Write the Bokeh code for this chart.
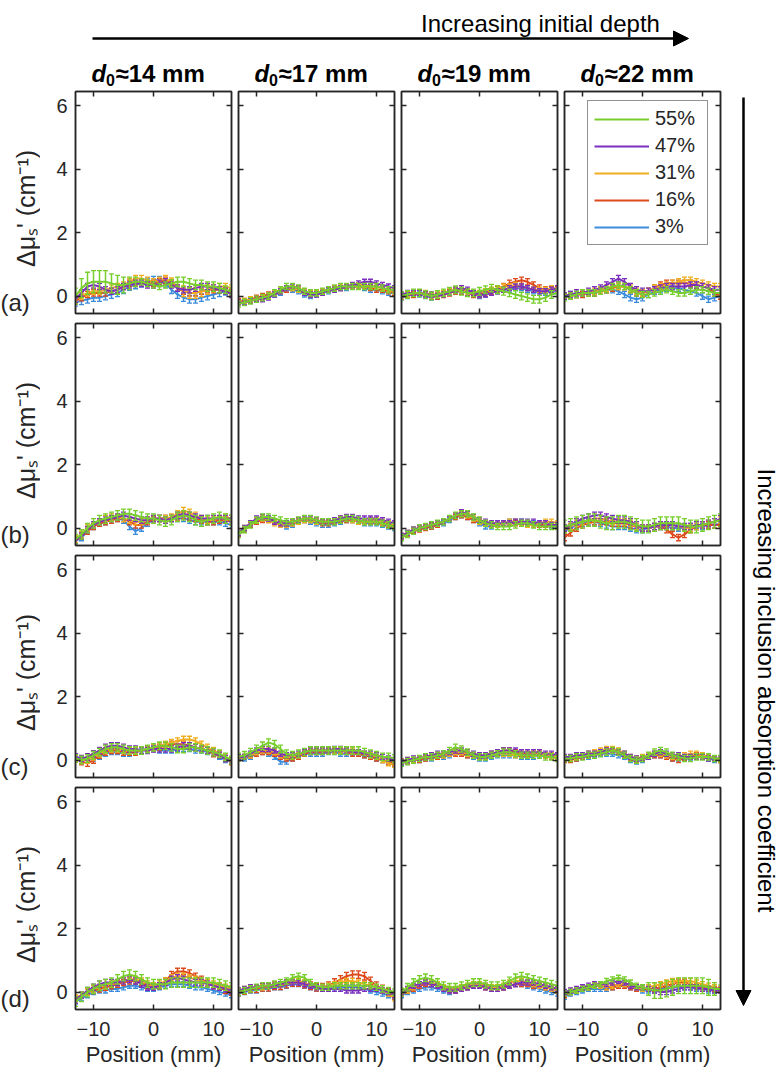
import math
from bokeh.plotting import figure
from bokeh.models import (Range1d, LinearAxis, FixedTicker, Label, Arrow, NormalHead,
                          Legend, LegendItem)
from bokeh.layouts import row, column, gridplot
from bokeh.embed import file_html
from bokeh.resources import INLINE

# ---------------- data ----------------
positions = [-13, -12, -11, -10, -9, -8, -7, -6, -5,
             -4, -3, -2, -1, 0, 1, 2, 3, 4,
             5, 6, 7, 8, 9, 10, 11, 12, 13]
series_labels = ["55%", "47%", "31%", "16%", "3%"]
series_colors = ["#78CE2C", "#7B2FBE", "#EFAE1F", "#DE4A1C", "#3C8CDC"]
depth_labels = ["14", "17", "19", "22"]
row_labels = ["(a)", "(b)", "(c)", "(d)"]
x_ticks = [-10, 0, 10]
y_ticks = [0, 2, 4, 6]

# each panel: [55%, 47%, 31%, 16%, 3%]
A1 = [[0.0, 0.25, 0.4, 0.45, 0.45, 0.45, 0.4, 0.35, 0.35, 0.4, 0.45, 0.45, 0.4, 0.35, 0.3, 0.35, 0.4, 0.45, 0.45, 0.4, 0.35, 0.35, 0.3, 0.3, 0.25, 0.2, 0.15],
      [-0.1, 0.1, 0.3, 0.35, 0.3, 0.2, 0.15, 0.2, 0.3, 0.35, 0.4, 0.4, 0.35, 0.35, 0.4, 0.45, 0.35, 0.25, 0.2, 0.2, 0.25, 0.3, 0.3, 0.25, 0.2, 0.15, 0.05],
      [-0.1, 0.0, 0.1, 0.15, 0.15, 0.2, 0.25, 0.3, 0.35, 0.45, 0.55, 0.55, 0.5, 0.45, 0.5, 0.55, 0.45, 0.3, 0.15, 0.1, 0.1, 0.15, 0.2, 0.25, 0.3, 0.3, 0.25],
      [-0.15, -0.05, 0.05, 0.1, 0.1, 0.1, 0.15, 0.2, 0.3, 0.4, 0.45, 0.45, 0.4, 0.4, 0.45, 0.5, 0.4, 0.25, 0.15, 0.1, 0.1, 0.15, 0.2, 0.2, 0.2, 0.15, 0.1],
      [-0.2, -0.15, -0.1, -0.05, -0.05, 0.0, 0.05, 0.1, 0.2, 0.3, 0.35, 0.4, 0.45, 0.5, 0.5, 0.4, 0.2, 0.05, -0.05, -0.1, -0.1, -0.05, 0.0, 0.05, 0.1, 0.15, 0.1]]
A2 = [[-0.25, -0.2, -0.15, -0.1, -0.05, 0.0, 0.1, 0.2, 0.3, 0.3, 0.25, 0.15, 0.1, 0.1, 0.15, 0.2, 0.25, 0.3, 0.3, 0.3, 0.3, 0.3, 0.3, 0.3, 0.25, 0.2, 0.2],
      [-0.2, -0.2, -0.15, -0.1, -0.1, -0.05, 0.05, 0.15, 0.25, 0.3, 0.25, 0.1, 0.05, 0.05, 0.1, 0.2, 0.2, 0.25, 0.3, 0.35, 0.4, 0.45, 0.45, 0.4, 0.35, 0.3, 0.25],
      [-0.2, -0.15, -0.1, -0.1, -0.05, 0.0, 0.1, 0.2, 0.25, 0.25, 0.2, 0.15, 0.1, 0.1, 0.15, 0.2, 0.25, 0.3, 0.3, 0.3, 0.35, 0.35, 0.3, 0.3, 0.25, 0.2, 0.15],
      [-0.15, -0.15, -0.1, -0.05, 0.0, 0.05, 0.1, 0.15, 0.2, 0.25, 0.2, 0.1, 0.05, 0.1, 0.15, 0.2, 0.2, 0.25, 0.3, 0.3, 0.3, 0.3, 0.25, 0.2, 0.2, 0.15, 0.1],
      [-0.2, -0.2, -0.15, -0.1, -0.05, 0.0, 0.05, 0.1, 0.2, 0.2, 0.15, 0.05, 0.0, 0.05, 0.1, 0.15, 0.2, 0.25, 0.25, 0.3, 0.3, 0.25, 0.2, 0.2, 0.15, 0.1, 0.1]]
A3 = [[0.0, 0.05, 0.1, 0.1, 0.05, 0.0, 0.05, 0.1, 0.15, 0.2, 0.15, 0.1, 0.1, 0.15, 0.2, 0.25, 0.2, 0.15, 0.1, 0.05, 0.0, -0.05, -0.1, -0.1, -0.05, 0.05, 0.1],
      [0.05, 0.1, 0.1, 0.1, 0.05, 0.05, 0.0, 0.05, 0.1, 0.2, 0.25, 0.2, 0.1, 0.05, 0.05, 0.1, 0.15, 0.2, 0.25, 0.3, 0.3, 0.25, 0.2, 0.15, 0.15, 0.2, 0.25],
      [0.05, 0.05, 0.1, 0.1, 0.1, 0.05, 0.05, 0.1, 0.15, 0.2, 0.2, 0.15, 0.1, 0.1, 0.15, 0.2, 0.25, 0.3, 0.3, 0.35, 0.3, 0.25, 0.2, 0.2, 0.2, 0.25, 0.25],
      [0.0, 0.05, 0.05, 0.1, 0.05, 0.0, 0.0, 0.05, 0.1, 0.15, 0.15, 0.1, 0.05, 0.05, 0.1, 0.15, 0.2, 0.3, 0.4, 0.45, 0.5, 0.45, 0.35, 0.25, 0.2, 0.2, 0.2],
      [-0.05, 0.0, 0.05, 0.05, 0.0, -0.05, 0.0, 0.05, 0.1, 0.15, 0.15, 0.1, 0.05, 0.0, 0.05, 0.1, 0.15, 0.2, 0.2, 0.25, 0.25, 0.2, 0.15, 0.1, 0.1, 0.15, 0.15]]
A4 = [[-0.05, 0.0, 0.05, 0.1, 0.1, 0.1, 0.15, 0.2, 0.3, 0.35, 0.3, 0.2, 0.1, 0.05, 0.05, 0.1, 0.15, 0.2, 0.15, 0.1, 0.1, 0.15, 0.2, 0.2, 0.15, 0.1, 0.1],
      [0.0, 0.05, 0.1, 0.1, 0.15, 0.2, 0.25, 0.35, 0.45, 0.55, 0.45, 0.3, 0.2, 0.15, 0.15, 0.2, 0.25, 0.3, 0.3, 0.3, 0.3, 0.35, 0.35, 0.3, 0.25, 0.2, 0.2],
      [0.0, 0.0, 0.05, 0.1, 0.1, 0.15, 0.2, 0.25, 0.3, 0.3, 0.3, 0.25, 0.15, 0.1, 0.15, 0.25, 0.3, 0.35, 0.4, 0.45, 0.5, 0.5, 0.45, 0.4, 0.35, 0.3, 0.3],
      [0.0, 0.0, 0.05, 0.05, 0.1, 0.1, 0.15, 0.2, 0.25, 0.3, 0.3, 0.2, 0.1, 0.1, 0.15, 0.25, 0.35, 0.4, 0.4, 0.4, 0.4, 0.4, 0.35, 0.3, 0.25, 0.1, 0.0],
      [0.0, 0.05, 0.05, 0.1, 0.1, 0.1, 0.15, 0.2, 0.2, 0.15, 0.05, -0.05, -0.1, -0.05, 0.05, 0.15, 0.2, 0.25, 0.25, 0.25, 0.2, 0.15, 0.1, 0.0, -0.1, -0.05, 0.0]]
B1 = [[-0.35, -0.2, 0.0, 0.15, 0.25, 0.3, 0.35, 0.4, 0.45, 0.45, 0.4, 0.35, 0.3, 0.3, 0.25, 0.2, 0.25, 0.35, 0.4, 0.35, 0.25, 0.2, 0.25, 0.3, 0.35, 0.3, 0.25],
      [-0.4, -0.25, -0.05, 0.1, 0.2, 0.25, 0.3, 0.35, 0.4, 0.35, 0.3, 0.25, 0.25, 0.3, 0.3, 0.25, 0.3, 0.4, 0.45, 0.4, 0.35, 0.3, 0.3, 0.3, 0.3, 0.3, 0.3],
      [-0.35, -0.2, 0.0, 0.1, 0.2, 0.3, 0.35, 0.35, 0.3, 0.25, 0.2, 0.2, 0.25, 0.3, 0.3, 0.3, 0.35, 0.45, 0.55, 0.5, 0.4, 0.3, 0.25, 0.25, 0.3, 0.35, 0.3],
      [-0.4, -0.25, -0.1, 0.05, 0.15, 0.2, 0.25, 0.3, 0.3, 0.2, 0.1, 0.1, 0.2, 0.25, 0.3, 0.3, 0.3, 0.35, 0.4, 0.35, 0.3, 0.25, 0.2, 0.2, 0.25, 0.25, 0.2],
      [-0.4, -0.3, -0.1, 0.05, 0.15, 0.2, 0.25, 0.3, 0.25, 0.05, -0.1, 0.0, 0.15, 0.25, 0.3, 0.3, 0.3, 0.3, 0.3, 0.25, 0.2, 0.2, 0.2, 0.2, 0.2, 0.15, 0.1]]
B2 = [[-0.2, -0.05, 0.1, 0.25, 0.35, 0.35, 0.3, 0.25, 0.2, 0.2, 0.25, 0.3, 0.3, 0.25, 0.2, 0.2, 0.2, 0.25, 0.3, 0.3, 0.25, 0.2, 0.2, 0.2, 0.15, 0.1, 0.05],
      [-0.15, 0.0, 0.15, 0.3, 0.35, 0.3, 0.2, 0.15, 0.15, 0.2, 0.25, 0.3, 0.3, 0.25, 0.2, 0.2, 0.25, 0.3, 0.35, 0.35, 0.3, 0.3, 0.3, 0.3, 0.25, 0.2, 0.15],
      [-0.15, 0.0, 0.15, 0.25, 0.3, 0.25, 0.15, 0.1, 0.1, 0.15, 0.2, 0.25, 0.25, 0.2, 0.2, 0.2, 0.25, 0.3, 0.3, 0.25, 0.2, 0.2, 0.25, 0.25, 0.2, 0.15, 0.1],
      [-0.2, -0.05, 0.1, 0.2, 0.25, 0.25, 0.2, 0.15, 0.1, 0.15, 0.2, 0.25, 0.25, 0.2, 0.15, 0.15, 0.2, 0.25, 0.25, 0.25, 0.2, 0.2, 0.2, 0.2, 0.15, 0.1, 0.05],
      [-0.2, -0.05, 0.1, 0.25, 0.3, 0.3, 0.2, 0.1, 0.05, 0.1, 0.2, 0.25, 0.2, 0.15, 0.1, 0.1, 0.15, 0.2, 0.25, 0.25, 0.2, 0.15, 0.15, 0.15, 0.1, 0.05, 0.0]]
B3 = [[-0.3, -0.2, -0.1, 0.0, 0.05, 0.1, 0.15, 0.2, 0.3, 0.4, 0.45, 0.45, 0.35, 0.25, 0.15, 0.1, 0.05, 0.05, 0.05, 0.1, 0.15, 0.15, 0.1, 0.05, 0.05, 0.05, 0.05],
      [-0.25, -0.15, -0.05, 0.0, 0.05, 0.1, 0.15, 0.2, 0.3, 0.4, 0.5, 0.45, 0.35, 0.25, 0.2, 0.15, 0.15, 0.15, 0.15, 0.2, 0.2, 0.2, 0.2, 0.15, 0.15, 0.1, 0.1],
      [-0.25, -0.15, -0.05, 0.0, 0.05, 0.1, 0.15, 0.2, 0.3, 0.4, 0.45, 0.4, 0.3, 0.2, 0.15, 0.1, 0.1, 0.15, 0.2, 0.2, 0.15, 0.1, 0.1, 0.15, 0.2, 0.2, 0.15],
      [-0.3, -0.2, -0.1, -0.05, 0.0, 0.05, 0.1, 0.2, 0.3, 0.35, 0.4, 0.35, 0.25, 0.2, 0.15, 0.1, 0.1, 0.15, 0.15, 0.15, 0.15, 0.1, 0.1, 0.1, 0.1, 0.1, 0.05],
      [-0.25, -0.15, -0.05, 0.0, 0.05, 0.05, 0.1, 0.15, 0.25, 0.35, 0.4, 0.35, 0.25, 0.15, 0.05, 0.05, 0.1, 0.15, 0.2, 0.2, 0.2, 0.15, 0.15, 0.1, 0.1, 0.05, 0.05]]
B4 = [[0.05, 0.1, 0.15, 0.2, 0.25, 0.25, 0.2, 0.15, 0.15, 0.2, 0.2, 0.15, 0.1, 0.05, 0.05, 0.1, 0.15, 0.15, 0.15, 0.15, 0.1, 0.05, 0.05, 0.1, 0.15, 0.2, 0.25],
      [0.0, 0.1, 0.2, 0.3, 0.35, 0.4, 0.4, 0.35, 0.3, 0.25, 0.25, 0.2, 0.1, 0.0, 0.0, 0.05, 0.1, 0.1, 0.1, 0.05, 0.05, 0.05, 0.1, 0.1, 0.15, 0.2, 0.3],
      [-0.05, 0.05, 0.15, 0.2, 0.25, 0.3, 0.3, 0.25, 0.2, 0.2, 0.2, 0.15, 0.05, 0.0, 0.0, 0.05, 0.1, 0.1, 0.1, 0.05, 0.0, 0.0, 0.05, 0.1, 0.15, 0.2, 0.25],
      [-0.3, -0.15, 0.0, 0.1, 0.15, 0.2, 0.2, 0.2, 0.15, 0.15, 0.15, 0.1, 0.05, 0.0, 0.0, 0.05, 0.05, -0.05, -0.2, -0.3, -0.2, -0.05, 0.05, 0.1, 0.1, 0.1, 0.1],
      [-0.1, 0.0, 0.1, 0.15, 0.2, 0.2, 0.15, 0.1, 0.05, 0.05, 0.05, 0.0, -0.05, -0.05, 0.0, 0.05, 0.05, 0.05, 0.0, 0.0, 0.0, 0.05, 0.05, 0.05, 0.1, 0.1, 0.15]]
C1 = [[0.05, 0.0, 0.05, 0.15, 0.25, 0.35, 0.4, 0.4, 0.35, 0.3, 0.3, 0.3, 0.35, 0.4, 0.45, 0.45, 0.4, 0.35, 0.35, 0.4, 0.4, 0.35, 0.3, 0.25, 0.2, 0.1, 0.0],
      [0.1, 0.05, 0.1, 0.2, 0.3, 0.4, 0.45, 0.45, 0.4, 0.35, 0.35, 0.3, 0.3, 0.35, 0.35, 0.35, 0.35, 0.4, 0.45, 0.45, 0.4, 0.35, 0.3, 0.25, 0.15, 0.05, 0.0],
      [0.05, 0.0, 0.0, 0.1, 0.2, 0.3, 0.35, 0.35, 0.3, 0.3, 0.3, 0.3, 0.35, 0.4, 0.45, 0.5, 0.55, 0.6, 0.65, 0.65, 0.6, 0.5, 0.4, 0.3, 0.2, 0.1, 0.0],
      [0.05, -0.05, -0.1, 0.0, 0.15, 0.25, 0.3, 0.3, 0.25, 0.25, 0.25, 0.3, 0.35, 0.4, 0.4, 0.45, 0.5, 0.5, 0.5, 0.45, 0.4, 0.35, 0.3, 0.2, 0.15, 0.05, -0.05],
      [0.1, 0.05, 0.0, 0.05, 0.1, 0.2, 0.25, 0.25, 0.2, 0.2, 0.25, 0.3, 0.35, 0.35, 0.3, 0.3, 0.3, 0.35, 0.35, 0.35, 0.3, 0.3, 0.25, 0.2, 0.1, 0.0, -0.05]]
C2 = [[0.1, 0.15, 0.25, 0.35, 0.45, 0.55, 0.5, 0.35, 0.2, 0.15, 0.2, 0.25, 0.3, 0.3, 0.3, 0.3, 0.3, 0.3, 0.3, 0.3, 0.3, 0.25, 0.2, 0.15, 0.1, 0.1, 0.05],
      [0.1, 0.1, 0.2, 0.3, 0.35, 0.35, 0.3, 0.2, 0.15, 0.15, 0.2, 0.25, 0.3, 0.3, 0.3, 0.3, 0.35, 0.35, 0.3, 0.25, 0.25, 0.2, 0.2, 0.15, 0.1, 0.05, 0.0],
      [0.05, 0.1, 0.15, 0.25, 0.3, 0.3, 0.25, 0.15, 0.1, 0.1, 0.15, 0.25, 0.3, 0.3, 0.3, 0.3, 0.3, 0.3, 0.3, 0.3, 0.25, 0.2, 0.15, 0.1, 0.0, -0.1, -0.15],
      [0.1, 0.1, 0.15, 0.2, 0.25, 0.25, 0.2, 0.1, 0.05, 0.05, 0.1, 0.2, 0.25, 0.25, 0.25, 0.3, 0.3, 0.3, 0.25, 0.2, 0.2, 0.15, 0.1, 0.05, 0.0, -0.05, -0.1],
      [0.05, 0.05, 0.1, 0.2, 0.25, 0.2, 0.1, -0.05, -0.05, 0.05, 0.15, 0.2, 0.2, 0.2, 0.2, 0.25, 0.25, 0.2, 0.2, 0.2, 0.2, 0.15, 0.1, 0.05, 0.0, -0.05, -0.1]]
C3 = [[-0.1, -0.05, 0.0, 0.05, 0.1, 0.1, 0.15, 0.2, 0.3, 0.4, 0.35, 0.25, 0.15, 0.1, 0.1, 0.15, 0.2, 0.25, 0.25, 0.2, 0.15, 0.15, 0.15, 0.15, 0.1, 0.1, 0.05],
      [-0.05, 0.0, 0.05, 0.05, 0.1, 0.15, 0.2, 0.2, 0.25, 0.3, 0.3, 0.25, 0.2, 0.15, 0.15, 0.2, 0.25, 0.3, 0.3, 0.3, 0.25, 0.25, 0.25, 0.25, 0.2, 0.2, 0.15],
      [-0.05, 0.0, 0.0, 0.05, 0.1, 0.1, 0.15, 0.15, 0.2, 0.25, 0.25, 0.2, 0.15, 0.1, 0.1, 0.15, 0.2, 0.2, 0.2, 0.15, 0.15, 0.15, 0.2, 0.2, 0.15, 0.15, 0.1],
      [-0.05, -0.05, 0.0, 0.0, 0.05, 0.1, 0.1, 0.15, 0.2, 0.2, 0.2, 0.15, 0.15, 0.1, 0.15, 0.2, 0.25, 0.3, 0.3, 0.25, 0.2, 0.2, 0.2, 0.2, 0.15, 0.1, 0.1],
      [-0.1, -0.05, 0.0, 0.0, 0.05, 0.05, 0.1, 0.1, 0.15, 0.2, 0.2, 0.15, 0.1, 0.05, 0.05, 0.1, 0.15, 0.15, 0.15, 0.15, 0.1, 0.1, 0.1, 0.15, 0.15, 0.1, 0.1]]
C4 = [[0.05, 0.05, 0.1, 0.1, 0.15, 0.15, 0.2, 0.25, 0.3, 0.25, 0.15, 0.05, 0.0, 0.05, 0.15, 0.25, 0.3, 0.25, 0.15, 0.1, 0.05, 0.05, 0.1, 0.1, 0.1, 0.05, 0.05],
      [0.1, 0.1, 0.15, 0.15, 0.2, 0.2, 0.25, 0.3, 0.3, 0.25, 0.2, 0.1, 0.05, 0.05, 0.1, 0.2, 0.25, 0.2, 0.15, 0.15, 0.1, 0.1, 0.1, 0.1, 0.05, 0.05, 0.05],
      [0.05, 0.05, 0.1, 0.15, 0.2, 0.25, 0.3, 0.35, 0.35, 0.3, 0.2, 0.1, 0.05, 0.1, 0.15, 0.2, 0.2, 0.15, 0.1, 0.1, 0.15, 0.2, 0.2, 0.15, 0.1, 0.05, 0.0],
      [0.0, 0.0, 0.05, 0.1, 0.15, 0.2, 0.25, 0.3, 0.3, 0.25, 0.15, 0.05, 0.0, 0.05, 0.1, 0.15, 0.15, 0.1, 0.05, 0.0, 0.05, 0.1, 0.15, 0.15, 0.1, 0.05, 0.0],
      [0.05, 0.05, 0.05, 0.1, 0.1, 0.15, 0.2, 0.2, 0.2, 0.15, 0.1, 0.0, -0.05, 0.0, 0.1, 0.15, 0.15, 0.1, 0.05, 0.05, 0.05, 0.05, 0.1, 0.1, 0.05, 0.0, 0.0]]
D1 = [[-0.3, -0.15, 0.0, 0.1, 0.2, 0.25, 0.3, 0.4, 0.5, 0.55, 0.5, 0.4, 0.3, 0.25, 0.25, 0.25, 0.3, 0.3, 0.3, 0.3, 0.3, 0.3, 0.3, 0.3, 0.25, 0.2, 0.15],
      [-0.25, -0.1, 0.05, 0.15, 0.25, 0.3, 0.3, 0.3, 0.35, 0.4, 0.35, 0.25, 0.15, 0.15, 0.2, 0.3, 0.4, 0.45, 0.4, 0.35, 0.3, 0.3, 0.25, 0.2, 0.15, 0.1, 0.05],
      [-0.2, -0.1, 0.0, 0.1, 0.15, 0.2, 0.25, 0.3, 0.35, 0.4, 0.4, 0.35, 0.25, 0.2, 0.25, 0.35, 0.45, 0.5, 0.5, 0.45, 0.4, 0.35, 0.3, 0.25, 0.2, 0.15, 0.1],
      [-0.2, -0.1, 0.0, 0.05, 0.1, 0.15, 0.2, 0.25, 0.3, 0.35, 0.35, 0.3, 0.2, 0.15, 0.2, 0.35, 0.55, 0.65, 0.65, 0.6, 0.5, 0.4, 0.3, 0.2, 0.15, 0.05, 0.0],
      [-0.3, -0.2, -0.1, 0.0, 0.05, 0.05, 0.1, 0.1, 0.15, 0.2, 0.2, 0.15, 0.1, 0.1, 0.15, 0.2, 0.25, 0.25, 0.25, 0.2, 0.15, 0.15, 0.1, 0.05, 0.0, -0.05, -0.1]]
D2 = [[0.0, 0.05, 0.1, 0.15, 0.2, 0.2, 0.25, 0.3, 0.35, 0.45, 0.5, 0.45, 0.3, 0.2, 0.15, 0.15, 0.2, 0.2, 0.2, 0.2, 0.2, 0.2, 0.2, 0.15, 0.1, 0.05, 0.0],
      [0.05, 0.1, 0.15, 0.15, 0.2, 0.2, 0.2, 0.25, 0.3, 0.3, 0.3, 0.25, 0.2, 0.15, 0.1, 0.1, 0.1, 0.1, 0.05, 0.05, 0.05, 0.1, 0.1, 0.1, 0.05, 0.0, -0.1],
      [0.05, 0.1, 0.1, 0.15, 0.15, 0.2, 0.2, 0.25, 0.3, 0.35, 0.35, 0.3, 0.2, 0.15, 0.15, 0.2, 0.25, 0.3, 0.35, 0.35, 0.3, 0.25, 0.2, 0.15, 0.05, -0.05, -0.2],
      [0.0, 0.05, 0.1, 0.1, 0.15, 0.15, 0.2, 0.2, 0.25, 0.3, 0.3, 0.25, 0.2, 0.15, 0.15, 0.2, 0.3, 0.4, 0.5, 0.55, 0.55, 0.5, 0.35, 0.2, 0.1, 0.0, -0.1],
      [-0.05, 0.0, 0.05, 0.05, 0.1, 0.1, 0.15, 0.15, 0.2, 0.25, 0.25, 0.2, 0.15, 0.1, 0.1, 0.1, 0.15, 0.15, 0.15, 0.15, 0.15, 0.1, 0.05, 0.0, -0.05, -0.1, -0.15]]
D3 = [[0.0, 0.15, 0.3, 0.4, 0.45, 0.4, 0.3, 0.2, 0.15, 0.15, 0.2, 0.25, 0.3, 0.3, 0.25, 0.2, 0.2, 0.25, 0.35, 0.45, 0.5, 0.45, 0.4, 0.35, 0.3, 0.25, 0.2],
      [0.0, 0.1, 0.2, 0.25, 0.3, 0.25, 0.2, 0.1, 0.05, 0.05, 0.1, 0.15, 0.2, 0.2, 0.15, 0.1, 0.1, 0.15, 0.2, 0.25, 0.3, 0.3, 0.3, 0.25, 0.2, 0.15, 0.1],
      [-0.05, 0.05, 0.15, 0.25, 0.3, 0.3, 0.25, 0.15, 0.1, 0.1, 0.15, 0.2, 0.25, 0.25, 0.2, 0.15, 0.15, 0.2, 0.3, 0.35, 0.35, 0.3, 0.25, 0.2, 0.15, 0.1, 0.05],
      [-0.05, 0.05, 0.1, 0.2, 0.25, 0.25, 0.2, 0.1, 0.05, 0.05, 0.1, 0.15, 0.2, 0.2, 0.15, 0.1, 0.1, 0.15, 0.2, 0.25, 0.25, 0.25, 0.2, 0.2, 0.15, 0.1, 0.05],
      [-0.1, 0.0, 0.05, 0.1, 0.15, 0.15, 0.1, 0.05, 0.0, 0.05, 0.1, 0.15, 0.2, 0.25, 0.2, 0.15, 0.1, 0.15, 0.2, 0.25, 0.25, 0.2, 0.15, 0.1, 0.05, 0.0, -0.05]]
D4 = [[-0.05, 0.0, 0.05, 0.1, 0.15, 0.2, 0.25, 0.35, 0.4, 0.45, 0.4, 0.3, 0.2, 0.15, 0.1, 0.05, 0.05, 0.1, 0.15, 0.2, 0.2, 0.2, 0.2, 0.2, 0.15, 0.1, 0.1],
      [0.0, 0.05, 0.1, 0.15, 0.2, 0.25, 0.25, 0.25, 0.3, 0.35, 0.3, 0.2, 0.15, 0.15, 0.1, 0.05, 0.0, 0.0, 0.05, 0.1, 0.15, 0.15, 0.15, 0.1, 0.1, 0.05, 0.05],
      [-0.05, 0.0, 0.05, 0.1, 0.15, 0.2, 0.2, 0.15, 0.2, 0.25, 0.25, 0.2, 0.15, 0.1, 0.15, 0.2, 0.25, 0.3, 0.35, 0.35, 0.35, 0.35, 0.3, 0.25, 0.2, 0.15, 0.1],
      [-0.1, 0.0, 0.05, 0.1, 0.15, 0.2, 0.2, 0.15, 0.15, 0.2, 0.2, 0.15, 0.1, 0.1, 0.1, 0.1, 0.15, 0.2, 0.25, 0.3, 0.3, 0.25, 0.2, 0.15, 0.1, 0.1, 0.05],
      [-0.15, -0.05, 0.0, 0.05, 0.1, 0.1, 0.1, 0.1, 0.15, 0.2, 0.2, 0.15, 0.1, 0.05, 0.05, 0.05, 0.1, 0.15, 0.15, 0.15, 0.15, 0.15, 0.1, 0.1, 0.05, 0.05, 0.05]]

# error-bar half lengths (one value per series, or one per position)
A1_err = [[0.25, 0.3, 0.35, 0.35, 0.35, 0.35, 0.3, 0.3, 0.25, 0.2, 0.15, 0.1, 0.1, 0.1, 0.1, 0.1, 0.12, 0.15, 0.15, 0.15, 0.15, 0.15, 0.15, 0.15, 0.15, 0.12, 0.1],
          0.1,
          [0.1, 0.1, 0.1, 0.1, 0.1, 0.1, 0.1, 0.1, 0.1, 0.1, 0.1, 0.1, 0.1, 0.1, 0.1, 0.1, 0.12, 0.15, 0.17, 0.17, 0.17, 0.17, 0.15, 0.12, 0.1, 0.1, 0.1],
          0.1, 0.12]
A2_err = [0.1, 0.08, 0.08, 0.08, 0.08]
A3_err = [0.12, 0.08, 0.08, 0.1, 0.08]
A4_err = [0.1, 0.1, 0.1, 0.1, 0.1]
B1_err = [0.15, 0.1, 0.1, 0.1, 0.1]
B2_err = [0.1, 0.08, 0.08, 0.08, 0.08]
B3_err = [0.1, 0.08, 0.08, 0.08, 0.08]
B4_err = [0.2, 0.1, 0.1, 0.1, 0.1]
C1_err = [0.12, 0.1, 0.1, 0.1, 0.08]
C2_err = [0.12, 0.08, 0.08, 0.08, 0.08]
C3_err = [0.1, 0.08, 0.08, 0.08, 0.08]
C4_err = [0.1, 0.08, 0.08, 0.08, 0.08]
D1_err = [0.15, 0.1, 0.1, 0.1, 0.08]
D2_err = [0.1, 0.08, 0.08, 0.12, 0.08]
D3_err = [0.12, 0.08, 0.08, 0.08, 0.08]
D4_err = [[0.08, 0.08, 0.08, 0.08, 0.08, 0.08, 0.08, 0.08, 0.08, 0.08, 0.08, 0.08, 0.08, 0.08, 0.2, 0.25, 0.25, 0.25, 0.25, 0.25, 0.25, 0.25, 0.25, 0.25, 0.25, 0.2, 0.12],
          0.08, 0.08, 0.08, 0.08]

panels = [[A1, A2, A3, A4], [B1, B2, B3, B4], [C1, C2, C3, C4], [D1, D2, D3, D4]]
panel_errs = [[A1_err, A2_err, A3_err, A4_err], [B1_err, B2_err, B3_err, B4_err],
              [C1_err, C2_err, C3_err, C4_err], [D1_err, D2_err, D3_err, D4_err]]

# ---------------- styling / layout ----------------
FONT = "Liberation Sans"
INK = "#262626"
FW, FH = 156, 222
LEFT_W = 40                    # strip holding row tags and y titles
LEFT0, GAPL, GAPR = 35, 4, 3   # col-1 left border inside the grid
HEADER_H = 87
RIGHT_W = 56
X0, X1 = -13, 13
Y0, Y1 = -0.55, 6.45
TOPS = [4, 5, 5, 5]
BOTTOMS = [5, 5, 5, 63]


def style_axis(ax, ticks, show_labels, standoff):
    ax.ticker = FixedTicker(ticks=ticks)
    ax.major_tick_in = 5
    ax.major_tick_out = 0
    ax.minor_tick_in = 0
    ax.minor_tick_out = 0
    ax.axis_line_color = INK
    ax.axis_line_width = 1.5
    ax.major_tick_line_color = INK
    ax.major_tick_line_width = 1.5
    ax.major_label_text_font = FONT
    ax.major_label_text_color = INK
    if show_labels:
        ax.major_label_text_font_size = "20px"
        ax.major_label_standoff = standoff
    else:
        ax.major_label_overrides = {t: "" for t in ticks}
        ax.major_label_text_font_size = "1px"
        ax.major_label_standoff = 0


def make_panel(r, c):
    p = figure(frame_width=FW, frame_height=FH,
               x_range=Range1d(X0, X1), y_range=Range1d(Y0, Y1),
               output_backend="svg", toolbar_location=None, tools="",
               min_border_left=LEFT0 if c == 0 else GAPL,
               min_border_right=GAPR,
               min_border_top=TOPS[r],
               min_border_bottom=BOTTOMS[r],
               background_fill_color="white", border_fill_color="white",
               outline_line_color=INK, outline_line_width=1.5)
    p.xgrid.visible = False
    p.ygrid.visible = False
    xa = p.below[0]
    ya = p.left[0]
    style_axis(xa, x_ticks, r == 3, 12)
    style_axis(ya, y_ticks, c == 0, 8)
    ra = LinearAxis()
    style_axis(ra, y_ticks, False, 0)
    p.add_layout(ra, "right")
    ta = LinearAxis()
    style_axis(ta, x_ticks, False, 0)
    p.add_layout(ta, "above")

    if r == 3:
        xa.axis_label = "Position (mm)"
        xa.axis_label_text_font = FONT
        xa.axis_label_text_font_size = "22px"
        xa.axis_label_text_font_style = "normal"
        xa.axis_label_text_color = INK
        xa.axis_label_standoff = 3

    data = panels[r][c]
    errs = panel_errs[r][c]
    renderers = {}
    for k in reversed(range(5)):
        ys = data[k]
        e = errs[k] if isinstance(errs[k], list) else [errs[k]] * len(positions)
        lo = [y - ee for y, ee in zip(ys, e)]
        hi = [y + ee for y, ee in zip(ys, e)]
        col = series_colors[k]
        p.segment(x0=positions, y0=lo, x1=positions, y1=hi, line_color=col, line_width=1.5)
        p.scatter(x=positions + positions, y=lo + hi, marker="dash", size=5,
                  line_color=col, line_width=1.3)
        renderers[k] = p.line(x=positions, y=ys, line_color=col, line_width=2.0)

    if r == 0 and c == 3:
        items = [LegendItem(label=series_labels[k], renderers=[renderers[k]]) for k in range(5)]
        legend = Legend(items=items, location=(23, 68), margin=0, padding=6, spacing=4,
                        glyph_width=55, glyph_height=20, label_height=20, label_width=46,
                        label_standoff=6,
                        label_text_font=FONT, label_text_font_size="20px", label_text_color=INK,
                        border_line_color=INK, border_line_width=1.5,
                        background_fill_color="white", background_fill_alpha=1.0)
        p.add_layout(legend)
    return p


grid_children = [[make_panel(r, c) for c in range(4)] for r in range(4)]
grid = gridplot(grid_children, toolbar_location=None)

GRID_W = (LEFT0 + FW + GAPR) + 3 * (GAPL + FW + GAPR)
GRID_H = sum(TOPS) + sum(BOTTOMS) + 4 * FH
TOTAL_W = LEFT_W + GRID_W + RIGHT_W


def blank_fig(w, h):
    f = figure(width=w, height=h, x_range=Range1d(0, w), y_range=Range1d(h, 0),
               x_axis_type=None, y_axis_type=None,
               output_backend="svg", toolbar_location=None, tools="",
               min_border=0, outline_line_color=None,
               background_fill_color="white", border_fill_color="white")
    f.xgrid.visible = False
    f.ygrid.visible = False
    return f


# header with arrow and column titles (pixel coordinates)
header = blank_fig(TOTAL_W, HEADER_H)
header.add_layout(Label(x=540, y=23, text="Increasing initial depth", text_font=FONT,
                        text_font_size="24px", text_color="black", text_align="center",
                        text_baseline="alphabetic"))
header.add_layout(Arrow(x_start=92, y_start=38, x_end=688, y_end=38, line_width=2.5,
                        line_color="black",
                        end=NormalHead(size=15, fill_color="black", line_color="black")))
for c in range(4):
    frame_left = LEFT_W + LEFT0 + c * (FW + GAPR + GAPL)
    start = frame_left + FW / 2 - 62
    header.add_layout(Label(x=start, y=73, text="d", text_font=FONT, text_font_size="24px",
                            text_font_style="bold italic", text_color="black",
                            text_align="left", text_baseline="alphabetic"))
    header.add_layout(Label(x=start + 14.5, y=79, text="0", text_font=FONT, text_font_size="16px",
                            text_font_style="bold", text_color="black",
                            text_align="left", text_baseline="alphabetic"))
    header.add_layout(Label(x=start + 24, y=73, text="\u2248" + depth_labels[c] + " mm",
                            text_font=FONT, text_font_size="24px", text_font_style="bold",
                            text_color="black", text_align="left", text_baseline="alphabetic"))

# left strip: y-axis titles and row tags
left_fig = blank_fig(LEFT_W, GRID_H)
y_cursor = 0
for r in range(4):
    ftop = y_cursor + TOPS[r]
    fbot = ftop + FH
    left_fig.add_layout(Label(x=25, y=ftop + FH / 2 + 6,
                              text="\u0394\u03bc\u209b' (cm\u207b\u00b9)", angle=math.pi / 2,
                              text_font=FONT, text_font_size="25px", text_color=INK,
                              text_align="center", text_baseline="middle"))
    left_fig.add_layout(Label(x=0, y=fbot - 11, text=row_labels[r], text_font=FONT,
                              text_font_size="24px", text_color=INK,
                              text_align="left", text_baseline="middle"))
    y_cursor = fbot + BOTTOMS[r]

# right side arrow and label
right_fig = blank_fig(RIGHT_W, GRID_H)
right_fig.add_layout(Arrow(x_start=20, y_start=10, x_end=20, y_end=918, line_width=2.5,
                           line_color="black",
                           end=NormalHead(size=15, fill_color="black", line_color="black")))
right_fig.add_layout(Label(x=43, y=381, text="Increasing inclusion absorption coefficient",
                           angle=-math.pi / 2, text_font=FONT, text_font_size="24px",
                           text_color="black", text_align="left", text_baseline="middle"))

layout = column(header, row(left_fig, grid, right_fig))

open("out.html", "w").write(file_html(layout, INLINE))
